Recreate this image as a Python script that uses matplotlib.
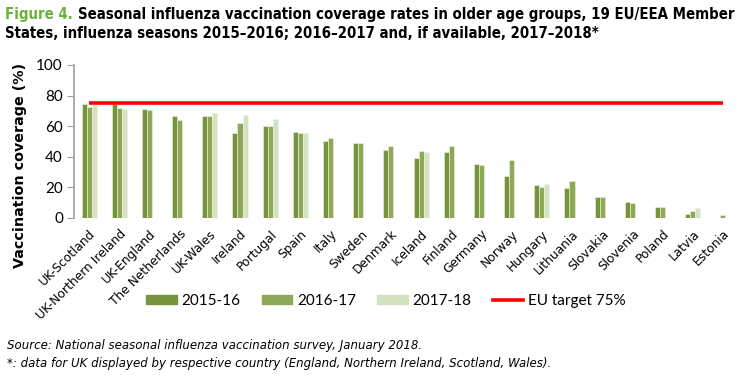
import matplotlib
matplotlib.use("Agg")
import matplotlib.pyplot as plt
import matplotlib.transforms as mtransforms
from matplotlib.patches import Patch
from matplotlib.lines import Line2D
import numpy as np

countries = ["UK-Scotland", "UK-Northern Ireland", "UK-England", "The Netherlands", "UK-Wales",
             "Ireland", "Portugal", "Spain", "Italy", "Sweden", "Denmark", "Iceland", "Finland",
             "Germany", "Norway", "Hungary", "Lithuania", "Slovakia", "Slovenia", "Poland",
             "Latvia", "Estonia"]
s2015 = [74.4, 74.6, 71.0, 66.4, 66.4, 55.2, 59.8, 56.1, 50.2, 48.9, 44.1, 39.1, 43.0,
         35.2, 27.1, 21.4, 19.4, 13.5, 10.3, 7.0, 2.2, np.nan]
s2016 = [72.7, 71.8, 70.3, 64.0, 66.4, 61.8, 59.8, 55.5, 52.0, 48.9, 46.7, 43.7, 47.2,
         34.7, 37.8, 20.1, 24.0, 13.3, 9.4, 7.0, 4.1, 1.7]
s2017 = [73.8, 71.4, np.nan, np.nan, 68.8, 67.5, 64.8, 55.5, np.nan, np.nan, np.nan, 43.0, np.nan,
         np.nan, np.nan, 21.8, np.nan, np.nan, np.nan, np.nan, 6.6, np.nan]
eu_target = 75
series_names = ["2015-16", "2016-17", "2017-18"]
colors = ["#77933C", "#8DA856", "#D5E2BF"]

W, H = 744, 379
fig = plt.figure(figsize=(W/100, H/100), dpi=100)
ax = fig.add_axes([74/W, 1-217.7/H, 664/W, 152.7/H])

x = np.arange(len(countries))
w = 1/6
for i, (vals, c) in enumerate(zip([s2015, s2016, s2017], colors)):
    ax.bar(x + (i-1)*w, vals, w, color=c, edgecolor="#F2F2E8", linewidth=0.4, zorder=2)
ax.plot(x, [eu_target]*len(x), color="#FF0000", lw=2.6, zorder=3, solid_capstyle="butt")

ax.set_xlim(-0.5, len(countries)-0.5)
ax.set_ylim(0, 100)
ax.set_yticks(range(0, 101, 20))
ax.set_xticks(x)
ax.set_xticklabels(countries, rotation=45, ha="right", rotation_mode="anchor", fontsize=8.8)
shift = mtransforms.ScaledTranslation(3/100, 0, fig.dpi_scale_trans)
for lab in ax.get_xticklabels():
    lab.set_transform(lab.get_transform() + shift)
ax.tick_params(axis="x", length=0, pad=7)
ax.tick_params(axis="y", length=5, color="#A0A0A0", labelsize=11, pad=3)
for lab in ax.get_yticklabels():
    lab.set_family("Lato")
for s in ["top", "right", "bottom"]:
    ax.spines[s].set_visible(False)
ax.spines["left"].set_color("#A0A0A0")
ax.spines["left"].set_linewidth(1.2)

handles = [Patch(color=c) for c in colors] + [Line2D([0], [0], color="#FF0000", lw=2.6)]
fig.legend(handles, series_names + ["EU target 75%"], loc="center left",
           bbox_to_anchor=(146/W, 1-301/H), ncol=4, frameon=False, borderpad=0, borderaxespad=0,
           prop={"family": "Lato", "size": 11}, handlelength=2.0, handleheight=0.52,
           columnspacing=1.37, handletextpad=0.33)

fig.canvas.draw()
r = fig.canvas.get_renderer()


def fit(t, width):
    t.set_fontsize(t.get_fontsize() * width / t.get_window_extent(r).width)


# y label, fitted to the reference length
yl = fig.text(20/W, 1-165/H, "Vaccination coverage (%)", ha="center", va="center",
              fontsize=10, fontweight="bold")
fit(yl, 204)
yl.set_rotation(90)

# title
tfont = dict(fontsize=10, fontweight="bold", fontstretch="condensed", va="center", ha="left")
t1 = fig.text(5/W, 1-15/H, "Figure 4.", color="#6AB33A", **tfont)
t1b = fig.text(5/W, 1-15/H,
               "Seasonal influenza vaccination coverage rates in older age groups, 19 EU/EEA Member",
               **tfont)
full = t1.get_window_extent(r).width + 5 + t1b.get_window_extent(r).width
scale = 724 / full
t1.set_fontsize(10*scale)
t1b.set_fontsize(10*scale)
t1b.set_x((5 + t1.get_window_extent(r).width + 5)/W)
fig.text(5/W, 1-34/H,
         "States, influenza seasons 2015\u20132016; 2016\u20132017 and, if available, 2017\u20132018*",
         fontsize=10*scale, fontweight="bold", fontstretch="condensed", va="center", ha="left")

n1 = fig.text(7/W, 1-345/H, "Source: National seasonal influenza vaccination survey, January 2018.",
              style="italic", fontsize=8.5, va="center")
fit(n1, 413)
n2 = fig.text(7/W, 1-363/H,
              "*: data for UK displayed by respective country (England, Northern Ireland, Scotland, Wales).",
              style="italic", fontsize=n1.get_fontsize(), va="center")

fig.savefig("out.png", dpi=100)
